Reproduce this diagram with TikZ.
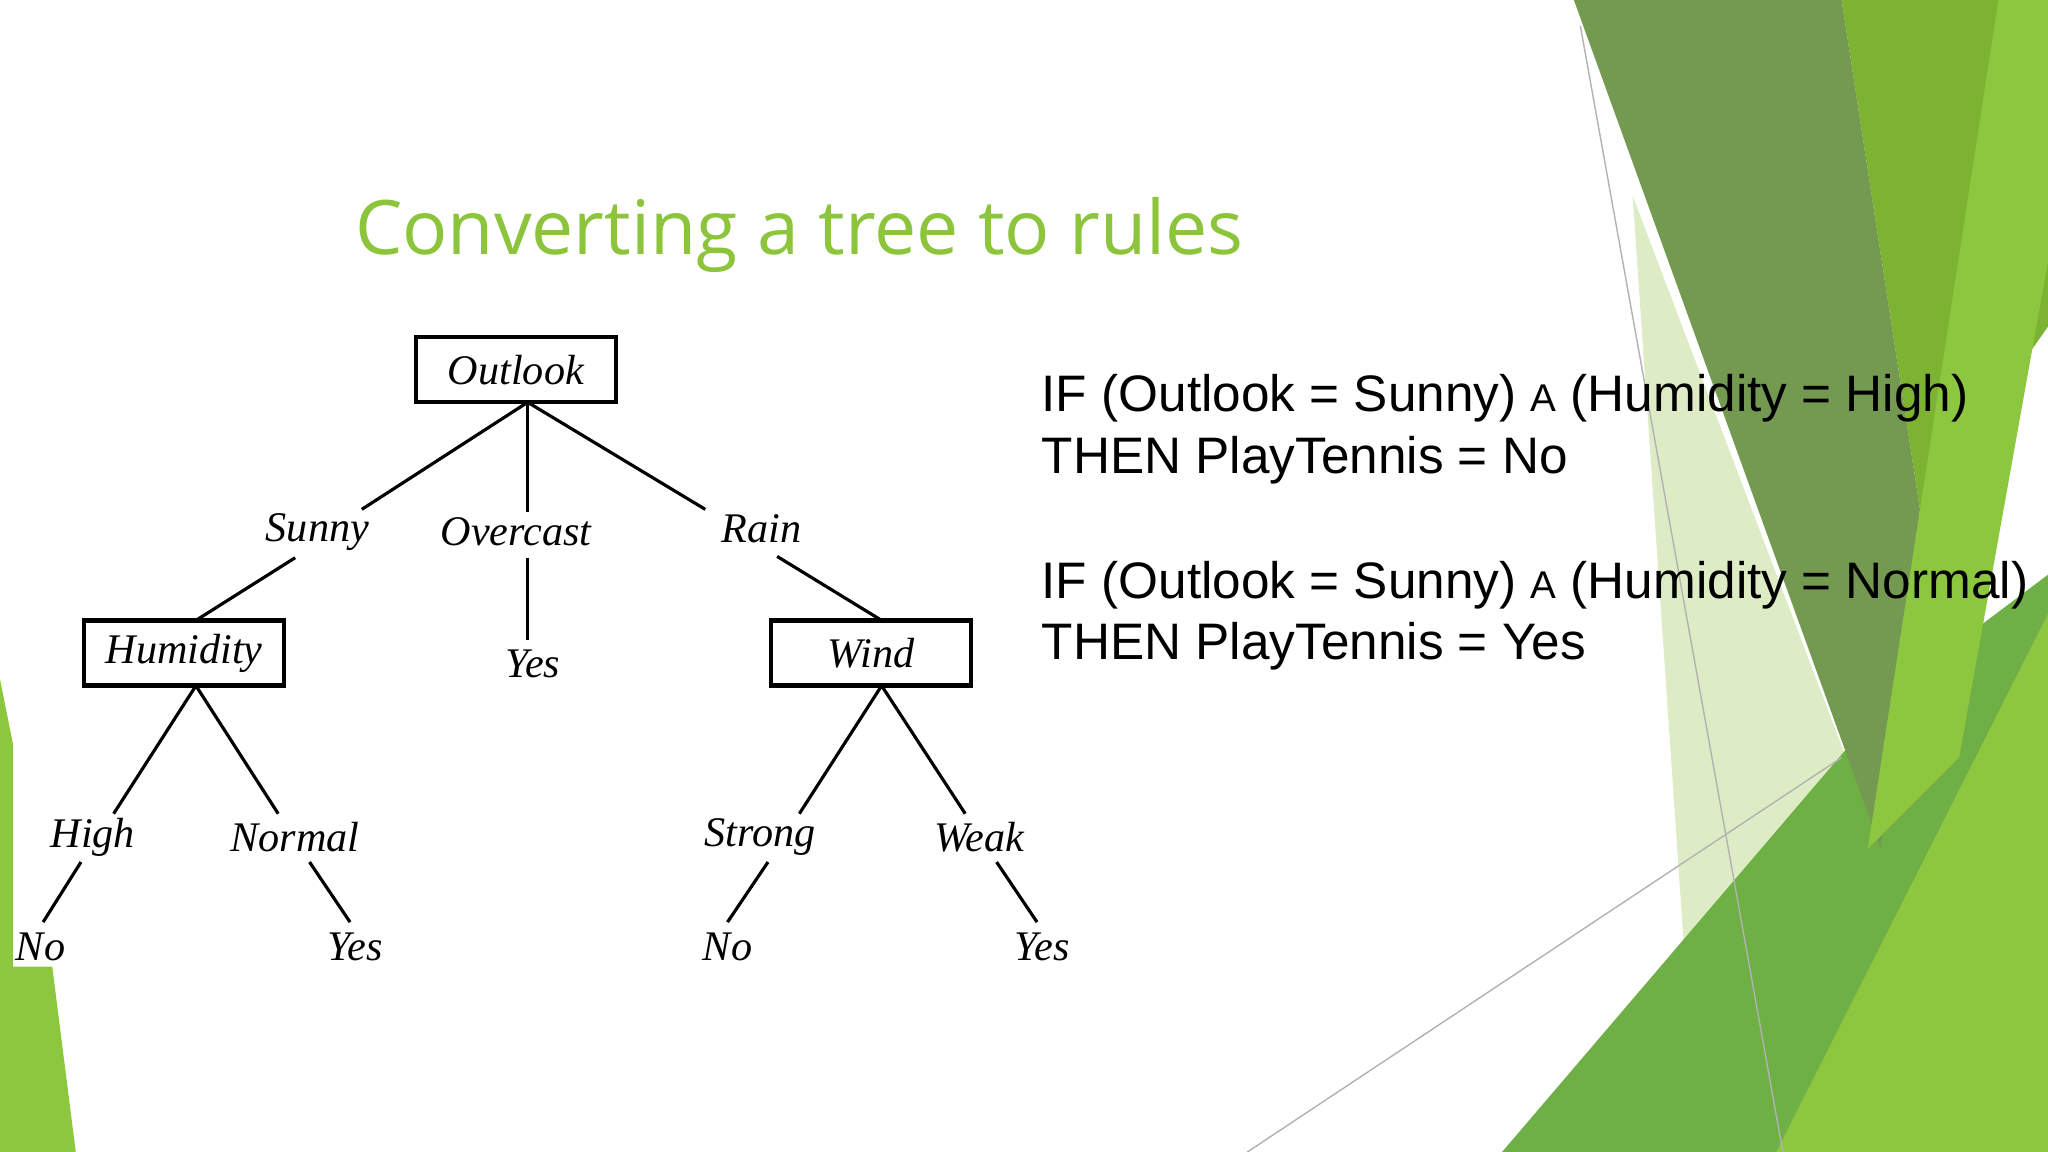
\documentclass[tikz,border=0pt]{standalone}
\usepackage{fontspec}
\setmainfont{Liberation Serif}
\newfontfamily\rulefont{Liberation Sans}
\newfontfamily\titlefont{Open Sans}
\definecolor{gdark}{RGB}{115,154,80}
\definecolor{gmed}{RGB}{124,180,50}
\definecolor{gbright}{RGB}{141,198,63}
\definecolor{gpale}{RGB}{222,236,198}
\definecolor{gbot}{RGB}{110,175,70}
\definecolor{gtitle}{RGB}{140,196,60}
\begin{document}
\begin{tikzpicture}[x=0.013061cm,y=-0.013061cm,
  box/.style={draw,line width=1.3pt,minimum width=2cm,minimum height=0.65cm,font=\fontsize{12}{14}\selectfont\itshape,inner sep=0pt},
  lab/.style={font=\fontsize{12}{14}\selectfont\itshape,inner sep=1pt},
  rl/.style={font=\rulefont\fontsize{14.6}{17}\selectfont,anchor=west,inner sep=0pt},
  edge/.style={line width=0.9pt}]
\useasboundingbox (0,0) rectangle (1568,882);
% background
\fill[white] (0,0) rectangle (1568,882);
\fill[gpale] (1250,150) -- (1440,650) -- (1195,882) -- (1300,882) -- cycle;
\fill[gbot] (1150,882) -- (1455,525) -- (1568,440) -- (1568,882) -- cycle;
\fill[gbright] (1360,882) -- (1568,470) -- (1568,882) -- cycle;
\fill[gmed] (1410,0) -- (1568,0) -- (1568,250) -- (1470,390) -- cycle;
\fill[gdark] (1205,0) -- (1410,0) -- (1470,390) -- (1440,650) -- cycle;
\fill[gbright] (1530,0) -- (1568,0) -- (1568,200) -- (1500,580) -- (1430,650) -- cycle;
\fill[gbright] (0,520) -- (10,570) -- (10,740) -- (40,740) -- (58,882) -- (0,882) -- cycle;
\draw[gray!60,line width=0.4pt] (1210,20) -- (1365,882);
\draw[gray!60,line width=0.4pt] (955,882) -- (1410,580);
% title
\node[font=\titlefont\fontsize{21.4}{26}\selectfont,text=gtitle] (title) at (612,180) {Converting a tree to rules};
% tree
\node[box] (out) at (395,283) {Outlook};
\node[box] (hum) at (141,500) {Humidity};
\node[box] (wind) at (667,500) {Wind};
\node[lab] (sunny) at (243,407) {Sunny};
\node[lab] (over) at (395,407) {Overcast};
\node[lab] (rain) at (583,405) {Rain};
\node[lab] (yes1) at (408,508) {Yes};
\node[lab] (high) at (71,641) {High};
\node[lab] (norm) at (226,641) {Normal};
\node[lab] (strong) at (582,641) {Strong};
\node[lab] (weak) at (750,641) {Weak};
\node[lab] (no1) at (31,725) {No};
\node[lab] (yes2) at (272,725) {Yes};
\node[lab] (no2) at (557,725) {No};
\node[lab] (yes3) at (798,725) {Yes};
\coordinate (os) at (404,308);
\draw[edge] (os) -- (277,390);
\draw[edge] (os) -- (404,392);
\draw[edge] (os) -- (540,390);
\draw[edge] (226,427) -- (150,475);
\draw[edge] (404,427) -- (404,490);
\draw[edge] (595,426) -- (675,475);
\draw[edge] (150,525) -- (87,623);
\draw[edge] (150,525) -- (213,623);
\draw[edge] (675,525) -- (612,623);
\draw[edge] (675,525) -- (739,623);
\draw[edge] (62,660) -- (33,706);
\draw[edge] (237,660) -- (268,706);
\draw[edge] (588,660) -- (557,706);
\draw[edge] (763,660) -- (794,706);
% rules
\node[rl] (r1) at (797,305) {IF (Outlook = Sunny) {\fontsize{11}{13}\selectfont A} (Humidity = High)};
\node[rl] (r2) at (797,352) {THEN PlayTennis = No};
\node[rl] (r3) at (797,448) {IF (Outlook = Sunny) {\fontsize{11}{13}\selectfont A} (Humidity = Normal)};
\node[rl] (r4) at (797,495) {THEN PlayTennis = Yes};
\end{tikzpicture}
\end{document}
